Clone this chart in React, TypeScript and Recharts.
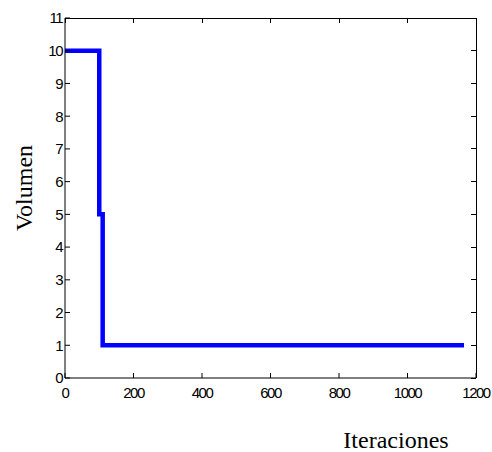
import { LineChart, Line, XAxis, YAxis } from 'recharts';

// step trace of the volume per iteration
const iterations = [0, 100, 100, 110, 110, 1165];
const volumes = [10, 10, 5, 5, 1, 1];

const xTicks = [0, 200, 400, 600, 800, 1000, 1200];
const yTicks = [0, 1, 2, 3, 4, 5, 6, 7, 8, 9, 10, 11];

const data = iterations.map((it, i) => ({ it, vol: volumes[i] }));

const W = 492;
const H = 452;
const MARGIN = { top: 18, right: 16, bottom: 44, left: 25 };
const Y_AXIS_W = 40;
const X_AXIS_H = 30;
const TICK_LEN = 5;

// plot box, same numbers the chart gets below
const box = {
  left: MARGIN.left + Y_AXIS_W,
  top: MARGIN.top,
  right: W - MARGIN.right,
  bottom: H - MARGIN.bottom - X_AXIS_H,
};
const xMax = xTicks[xTicks.length - 1];
const yMax = yTicks[yTicks.length - 1];
const sx = (v: number) => box.left + (v / xMax) * (box.right - box.left);
const sy = (v: number) => box.bottom - (v / yMax) * (box.bottom - box.top);

const tickFont = {
  fontFamily: '"Liberation Sans", Arial, sans-serif',
  fontSize: 15,
  fill: '#000',
  letterSpacing: -1.5,
};

const axisLine = { stroke: '#000', strokeWidth: 1 };

const titleFont = {
  fontFamily: '"Liberation Serif", "Times New Roman", serif',
  fontSize: 24,
  lineHeight: 1,
  whiteSpace: 'nowrap' as const,
};

// top and right edges of the box with their inward ticks
function BoxEdges() {
  return (
    <svg width={W} height={H} style={{ position: 'absolute', left: 0, top: 0, pointerEvents: 'none' }}>
      <g stroke="#000" strokeWidth={1} shapeRendering="crispEdges">
        <line x1={box.left} y1={box.top} x2={box.right} y2={box.top} />
        <line x1={box.right} y1={box.top} x2={box.right} y2={box.bottom} />
        {xTicks.map((t) => (
          <line key={`x${t}`} x1={sx(t)} y1={box.top} x2={sx(t)} y2={box.top + TICK_LEN} />
        ))}
        {yTicks.map((t) => (
          <line key={`y${t}`} x1={box.right} y1={sy(t)} x2={box.right - TICK_LEN} y2={sy(t)} />
        ))}
      </g>
    </svg>
  );
}

export default function App() {
  return (
    <div style={{ position: 'absolute', left: 0, top: 0, width: W, height: H, background: '#fff', overflow: 'hidden' }}>
      <LineChart width={W} height={H} data={data} margin={MARGIN}>
        <XAxis
          dataKey="it"
          type="number"
          domain={[0, xMax]}
          ticks={xTicks}
          interval={0}
          height={X_AXIS_H}
          tickSize={-TICK_LEN}
          tickMargin={14}
          tick={tickFont}
          axisLine={axisLine}
          tickLine={axisLine}
        />
        <YAxis
          type="number"
          domain={[0, yMax]}
          ticks={yTicks}
          interval={0}
          width={Y_AXIS_W}
          tickSize={-TICK_LEN}
          tickMargin={8}
          tick={tickFont}
          axisLine={axisLine}
          tickLine={axisLine}
        />
        <Line
          type="linear"
          dataKey="vol"
          stroke="#0000ff"
          strokeWidth={4.5}
          dot={false}
          isAnimationActive={false}
        />
      </LineChart>
      <BoxEdges />
      <div
        style={{
          ...titleFont,
          position: 'absolute',
          left: 24,
          top: 188,
          transform: 'translate(-50%, -50%) rotate(-90deg)',
        }}
      >
        Volumen
      </div>
      <div
        style={{
          ...titleFont,
          position: 'absolute',
          left: 396,
          top: 440,
          transform: 'translate(-50%, -50%)',
        }}
      >
        Iteraciones
      </div>
    </div>
  );
}
